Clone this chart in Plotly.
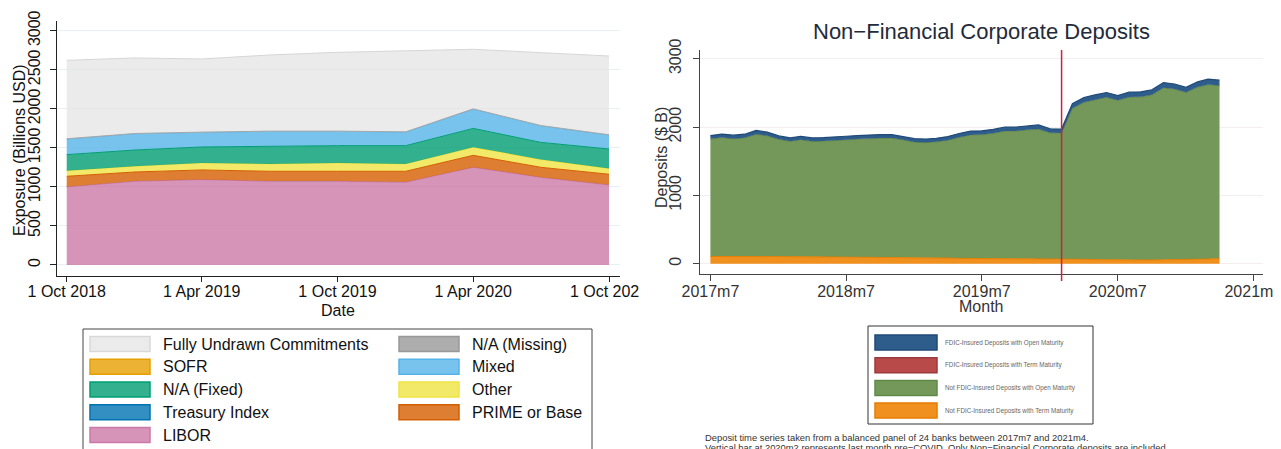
import pandas as pd
import plotly.graph_objects as go

# target picture size; the page body adds an 8px margin, so the figure is drawn 8px smaller
W, H = 1281, 449
OFF = 8
FW, FH = W - OFF, H - OFF

# ---- left panel: loan exposure by reference rate (quarterly, billions USD) ----
quarters = ["2018-10-01", "2019-01-01", "2019-04-01", "2019-07-01", "2019-10-01",
            "2020-01-01", "2020-04-01", "2020-07-01", "2020-10-01"]
libor = [1000, 1072, 1094, 1072, 1072, 1060, 1251, 1123, 1025]
treasury = [2, 2, 2, 2, 2, 2, 2, 2, 2]
prime = [134, 117, 121, 126, 126, 138, 151, 126, 135]
other = [72, 73, 89, 94, 106, 94, 102, 98, 72]
sofr = [0, 0, 0, 0, 0, 0, 2, 3, 3]
na_fixed = [205, 208, 205, 229, 222, 234, 241, 218, 248]
mixed = [200, 209, 187, 188, 183, 174, 247, 213, 179]
na_missing = [3, 3, 3, 3, 3, 3, 3, 3, 3]
undrawn = [1005, 967, 937, 975, 1009, 1040, 763, 933, 1009]

left_ticks = ["2018-10-01", "2019-04-01", "2019-10-01", "2020-04-01", "2020-10-01"]
left_ticktext = ["1 Oct 2018", "1 Apr 2019", "1 Oct 2019", "1 Apr 2020", "1 Oct 2020"]

# stacking order, bottom -> top: (name, values, base colour, outline colour, outline width)
left_series = [
    ("LIBOR", libor, "#CC79A7", "#CC79A7", 1),
    ("Treasury Index", treasury, "#0072B2", "#0072B2", 0),
    ("PRIME or Base", prime, "#D55E00", "#D55E00", 1),
    ("Other", other, "#F0E442", "#F0E442", 1),
    ("SOFR", sofr, "#E69F00", "#E69F00", 0),
    ("N/A (Fixed)", na_fixed, "#009E73", "#009E73", 1),
    ("Mixed", mixed, "#56B4E9", "#56B4E9", 1),
    ("N/A (Missing)", na_missing, "#999999", "#a8a8a8", 1),
    ("Fully Undrawn Commitments", undrawn, "#E6E6E6", "#d6d6d6", 1),
]
left_legend_order = ["Fully Undrawn Commitments", "N/A (Missing)", "SOFR", "Mixed",
                     "N/A (Fixed)", "Other", "Treasury Index", "PRIME or Base", "LIBOR"]

# ---- right panel: non-financial corporate deposits (monthly, $B) ----
months = pd.date_range("2017-07-01", "2021-04-01", freq="MS")
fdic_open = [48, 50, 50, 52, 55, 52, 50, 48, 50, 50, 50, 50, 50, 52, 52, 52,
             52, 50, 50, 50, 50, 52, 54, 55, 55, 56, 58, 58, 60, 60, 58, 58,
             65, 68, 70, 70, 70, 72, 72, 72, 75, 75, 72, 75, 78, 78]
fdic_term = [4] * 46
notfdic_open = [1718, 1735, 1720, 1734, 1787, 1765, 1713, 1685, 1709, 1685, 1691, 1707,
                1713, 1722, 1733, 1739, 1740, 1719, 1686, 1683, 1696, 1722, 1769, 1806,
                1813, 1833, 1866, 1867, 1885, 1896, 1843, 1837, 2203, 2294, 2336, 2375,
                2331, 2379, 2385, 2415, 2516, 2495, 2447, 2523, 2550, 2528]
notfdic_term = [105, 106, 106, 105, 104, 104, 103, 103, 102, 101, 100, 99, 98, 97, 96, 95,
                94, 92, 90, 88, 85, 82, 78, 75, 73, 72, 72, 71, 71, 70, 70, 71,
                68, 64, 60, 56, 55, 55, 54, 54, 55, 56, 57, 58, 68, 75]
precovid_month = "2020-02-01"

right_ticks = ["2017-07-01", "2018-07-01", "2019-07-01", "2020-07-01", "2021-07-01"]
right_ticktext = ["2017m7", "2018m7", "2019m7", "2020m7", "2021m7"]

# bottom -> top: (legend label, values, fill, line, line width)
right_series = [
    ("Not FDIC-Insured Deposits with Term Maturity", notfdic_term, "#f0901e", "#e67e00", 1),
    ("Not FDIC-Insured Deposits with Open Maturity", notfdic_open, "#73985a", "#5f8a48", 1),
    ("FDIC-Insured Deposits with Term Maturity", fdic_term, "#b94a4a", "#9c3a3c", 0),
    ("FDIC-Insured Deposits with Open Maturity", fdic_open, "#2e5d8c", "#1f4a78", 1.2),
]
right_legend_order = [3, 2, 1, 0]

FONT = "Liberation Sans, Arial, sans-serif"
NARROW = "Liberation Sans Narrow, Liberation Sans, Arial, sans-serif"


def px(x):
    return (x - OFF) / FW


def py(y):
    return 1 - (y - OFF) / FH


def rgba(hexcol, a):
    h = hexcol.lstrip("#")
    r, g, b = int(h[0:2], 16), int(h[2:4], 16), int(h[4:6], 16)
    return f"rgba({r},{g},{b},{a})"


fig = go.Figure()

for name, vals, col, edge, lw in left_series:
    fig.add_trace(go.Scatter(
        x=quarters, y=vals, name=name, mode="lines", stackgroup="left",
        line=dict(color=edge, width=lw), fillcolor=rgba(col, 0.8),
        xaxis="x", yaxis="y", showlegend=False))

for name, vals, fill, line, lw in right_series:
    fig.add_trace(go.Scatter(
        x=months, y=vals, name=name, mode="lines", stackgroup="right",
        line=dict(color=line, width=lw), fillcolor=fill,
        xaxis="x2", yaxis="y2", showlegend=False))

shapes = []
annotations = []

# pre-COVID marker
shapes.append(dict(type="line", xref="x2", yref="paper", x0=precovid_month, x1=precovid_month,
                   y0=py(281), y1=py(50), line=dict(color="#d0203a", width=1.5), layer="above"))

# left legend (two columns, row-major)
shapes.append(dict(type="rect", xref="paper", yref="paper", x0=px(83), x1=px(592),
                   y0=py(470), y1=py(329), line=dict(color="#444", width=1),
                   fillcolor="white", layer="above"))
styles = {s[0]: s for s in left_series}
for i, name in enumerate(left_legend_order):
    col, row = i % 2, i // 2
    cy = 344 + row * 22.75
    sx = [90, 399][col]
    base = styles[name][2]
    edge = "#d9d9d9" if name.startswith("Fully") else base
    shapes.append(dict(type="rect", xref="paper", yref="paper", x0=px(sx), x1=px(sx + 60),
                       y0=py(cy + 7.5), y1=py(cy - 7.5), fillcolor=rgba(base, 0.8),
                       line=dict(color=edge, width=1.5), layer="above"))
    annotations.append(dict(x=px(sx + 71), y=py(cy), xref="paper", yref="paper", text=name,
                            showarrow=False, xanchor="left", yanchor="middle",
                            font=dict(family=FONT, size=16, color="#111")))

# right legend
shapes.append(dict(type="rect", xref="paper", yref="paper", x0=px(868), x1=px(1093),
                   y0=py(424), y1=py(326), line=dict(color="#333", width=1),
                   fillcolor="white", layer="above"))
for k, idx in enumerate(right_legend_order):
    name, _, fill, line, _ = right_series[idx]
    cy = 342.5 + k * 22.7
    shapes.append(dict(type="rect", xref="paper", yref="paper", x0=px(875), x1=px(937),
                       y0=py(cy + 7.5), y1=py(cy - 7.5), fillcolor=fill,
                       line=dict(color=line, width=1.5), layer="above"))
    annotations.append(dict(x=px(943), y=py(cy), xref="paper", yref="paper", text=name,
                            showarrow=False, xanchor="left", yanchor="middle",
                            font=dict(family=FONT, size=6.3, color="#666")))

# footnote under right panel
notes = ["Deposit time series taken from a balanced panel of 24 banks between 2017m7 and 2021m4.",
         "Vertical bar at 2020m2 represents last month pre\u2212COVID. Only Non\u2212Financial Corporate deposits are included."]
for j, t in enumerate(notes):
    annotations.append(dict(x=px(703), y=py(437.5 + j * 9.5), xref="paper", yref="paper", text=t,
                            showarrow=False, xanchor="left", yanchor="middle",
                            font=dict(family=FONT, size=9.4, color="#333")))

# axis titles and panel title
annotations += [
    dict(x=px(19), y=py(150), text="Exposure (Billions USD)", textangle=-90,
         font=dict(family=FONT, size=16, color="#111")),
    dict(x=px(338), y=py(310), text="Date", font=dict(family=FONT, size=16, color="#111")),
    dict(x=px(662), y=py(158), text="Deposits ($ B)", textangle=-90,
         font=dict(family=FONT, size=16, color="#333")),
    dict(x=px(981), y=py(306), text="Month", font=dict(family=FONT, size=16, color="#333")),
    dict(x=px(981), y=py(32), text="Non\u2212Financial Corporate Deposits",
         font=dict(family=FONT, size=22, color="#232b3a")),
]
for a in annotations[-5:]:
    a.update(xref="paper", yref="paper", showarrow=False, xanchor="center", yanchor="middle")

# crop of the left panel's last tick label where the right panel begins
shapes.append(dict(type="rect", xref="paper", yref="paper", x0=px(639), x1=px(672),
                   y0=py(302), y1=py(281), fillcolor="white", line=dict(width=0), layer="above"))

fig.update_layout(
    width=FW, height=FH, margin=dict(l=0, r=0, t=0, b=0, autoexpand=False),
    paper_bgcolor="white", plot_bgcolor="white",
    font=dict(family=FONT, size=16, color="#111"),
    shapes=shapes, annotations=annotations,
    xaxis=dict(domain=[px(56.7), px(620)], type="date",
               range=["2018-09-17 12:00", "2020-10-15 19:00"],
               tickvals=left_ticks, ticktext=left_ticktext, ticks="outside", ticklen=5,
               tickcolor="#222", showline=True, linecolor="#222", linewidth=1,
               showgrid=False, zeroline=False, anchor="y", ticklabeloverflow="allow",
               ticklabelstandoff=-4,
               tickfont=dict(family=FONT, size=16, color="#111")),
    yaxis=dict(domain=[py(276), py(20.7)], range=[-141, 3128],
               tickvals=[0, 500, 1000, 1500, 2000, 2500, 3000], tickangle=-90,
               ticks="outside", ticklen=6, tickcolor="#222", showline=True,
               linecolor="#222", linewidth=1, showgrid=True, gridcolor="#e6eff1",
               gridwidth=1, zeroline=False, anchor="x", ticklabelstandoff=3,
               tickfont=dict(family=NARROW, size=16, color="#111")),
    xaxis2=dict(domain=[px(700), px(1263)], type="date",
                range=["2017-06-03", "2021-07-27"],
                tickvals=right_ticks, ticktext=right_ticktext, ticks="outside", ticklen=6,
                tickcolor="#444", showline=True, linecolor="#444", linewidth=1,
                showgrid=False, zeroline=False, anchor="y2", ticklabeloverflow="allow",
                ticklabelstandoff=-4,
                tickfont=dict(family=FONT, size=16, color="#333")),
    yaxis2=dict(domain=[py(274.3), py(50)], range=[-155, 3127],
                tickvals=[0, 1000, 2000, 3000], tickangle=-90,
                ticks="outside", ticklen=6, tickcolor="#444", showline=True,
                linecolor="#444", linewidth=1, showgrid=True, gridcolor="#f4eeee",
                gridwidth=1, zeroline=False, anchor="x2", ticklabelstandoff=6,
                tickfont=dict(family=FONT, size=16, color="#333")),
)

fig.write_html("out.html")
